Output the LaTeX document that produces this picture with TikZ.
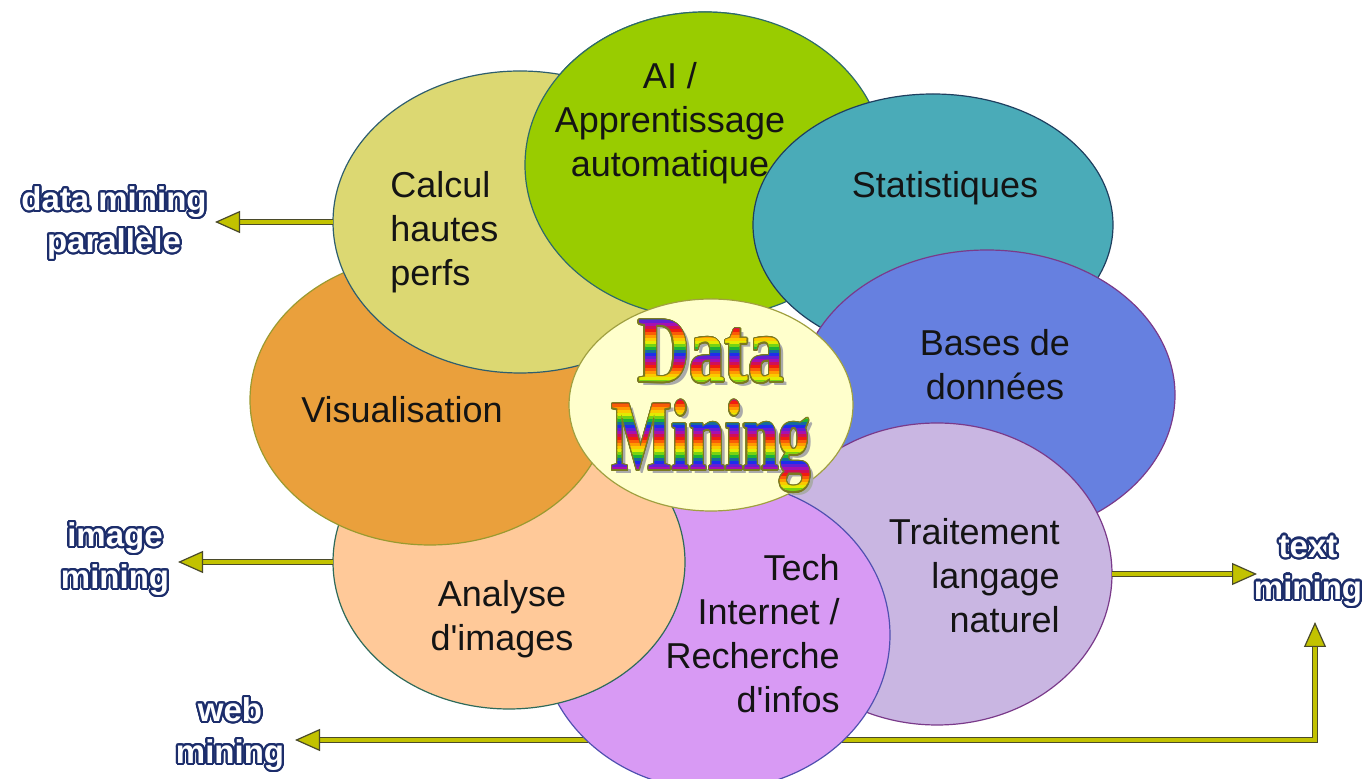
\documentclass[tikz,border=0pt]{standalone}
\usepackage{fontspec}
\setmainfont{Liberation Sans}
\newfontfamily\dmserif{Liberation Serif}
\usepackage[copies]{contour}
\usetikzlibrary{shapes.geometric,arrows.meta,backgrounds,calc}

\contourlength{1.1pt}
\contournumber{24}

\definecolor{calcfill}{HTML}{DCD872}
\definecolor{calcedge}{HTML}{2E5E6E}
\definecolor{aifill}{HTML}{99CC00}
\definecolor{aiedge}{HTML}{2E6A6A}
\definecolor{statfill}{HTML}{4AABB8}
\definecolor{statedge}{HTML}{1F3F5F}
\definecolor{basesfill}{HTML}{6680E0}
\definecolor{basesedge}{HTML}{7A3A8A}
\definecolor{traitfill}{HTML}{C9B6E2}
\definecolor{traitedge}{HTML}{7A3A8A}
\definecolor{techfill}{HTML}{D89AF4}
\definecolor{techedge}{HTML}{5050B0}
\definecolor{anafill}{HTML}{FFC999}
\definecolor{anaedge}{HTML}{2E6A5A}
\definecolor{visfill}{HTML}{EAA03C}
\definecolor{visedge}{HTML}{9A9A30}
\definecolor{corefill}{HTML}{FFFFCC}
\definecolor{coreedge}{HTML}{A0A040}
\definecolor{textdark}{HTML}{141414}
\definecolor{labelblue}{HTML}{1C2D6B}
\definecolor{arrowfill}{HTML}{C2C200}
\definecolor{arrowedge}{HTML}{4A4A2A}
\definecolor{dmedge}{HTML}{7A7A20}
\definecolor{dmshadow}{HTML}{AAAAAA}
% rainbow for the title
\definecolor{dmc0}{HTML}{F01010}
\definecolor{dmc1}{HTML}{FF9000}
\definecolor{dmc2}{HTML}{F8F000}
\definecolor{dmc3}{HTML}{20C020}
\definecolor{dmc4}{HTML}{1030F0}
\definecolor{dmc5}{HTML}{A010C0}

\newcommand{\outl}[1]{\contour{labelblue}{#1}}
\newcommand{\sq}{\textquotesingle}
\newcommand{\dmdata}{{\fontsize{47}{47}\selectfont\scalebox{0.755}[1]{Data}}}
\newcommand{\dmmining}{{\fontsize{50}{50}\selectfont\scalebox{0.64}[1]{Mining}}}

\begin{document}
\begin{tikzpicture}[x=0.5pt,y=-0.5pt,
    petal/.style={ellipse,inner sep=0pt,outer sep=0pt,line width=0.6pt},
    petaltext/.style={font=\fontsize{18}{22}\selectfont,text=textdark,inner sep=0pt},
    minelabel/.style={font=\bfseries\fontsize{16.5}{21}\selectfont,text=white,align=center,inner sep=0pt},
    dmword/.style={font=\dmserif\bfseries,anchor=base,inner sep=0pt},
    minearrow/.style={draw=arrowfill,line width=2pt,
        preaction={draw=arrowedge,line width=3pt,arrows=-,shorten >=6pt},
        -{Triangle[length=12.5pt,width=11pt,fill=arrowfill,color=arrowedge,line width=0.6pt]}}]

\useasboundingbox (0,0) rectangle (1366,779);

% petals, lowest first
\node[petal,fill=aifill,draw=aiedge,minimum width=180pt,minimum height=153pt] (ai) at (705,165) {};
\node[petal,fill=statfill,draw=statedge,minimum width=180pt,minimum height=131pt] (stat) at (933,225) {};
\node[petal,fill=basesfill,draw=basesedge,minimum width=188pt,minimum height=145pt] (bases) at (987,395) {};
\node[petal,fill=traitfill,draw=traitedge,minimum width=175pt,minimum height=151pt] (trait) at (937,574) {};
\node[petal,fill=techfill,draw=techedge,minimum width=175pt,minimum height=155pt] (tech) at (715,635) {};
\node[petal,fill=anafill,draw=anaedge,minimum width=176pt,minimum height=147pt] (ana) at (509,562) {};
\node[petal,fill=visfill,draw=visedge,minimum width=180pt,minimum height=145pt] (vis) at (430,400) {};
\node[petal,fill=calcfill,draw=calcedge,minimum width=187pt,minimum height=151pt] (calc) at (520,222) {};
% AI once more, over Calcul
\begin{scope}
  \clip (0,0) rectangle (740,400);
  \node[petal,fill=aifill,draw=aiedge,minimum width=180pt,minimum height=153pt] (aitop) at (705,165) {};
\end{scope}
\node[petal,fill=corefill,draw=coreedge,minimum width=142pt,minimum height=106pt] (core) at (711,405) {};

% petal texts
\node[petaltext,align=left,anchor=west] (calctxt) at (390,232) {Calcul\\hautes\\perfs};
\node[petaltext,align=center] (aitxt) at (670,123) {AI /\\Apprentissage\\automatique};
\node[petaltext] (stattxt) at (945,188) {Statistiques};
\node[petaltext,align=center] (basestxt) at (995,365) {Bases de\\donn\'ees};
\node[petaltext] (vistxt) at (402,410) {Visualisation};
\node[petaltext,align=right,anchor=east] (traittxt) at (1060,576) {Traitement\\langage\\naturel};
\node[petaltext,align=right,anchor=east] (techtxt) at (840,634) {Tech\\Internet /\\Recherche\\d\sq infos};
\node[petaltext,align=center] (anatxt) at (502,619) {Analyse\\d\sq images};

% Data Mining title
\node[dmword,text=dmshadow] (dmshd) at ($(core)+(2pt,9.5pt)$) {\dmdata};
\node[dmword,text=dmshadow] (dmshm) at ($(core)+(2pt,-34.5pt)$) {\dmmining};
\node[dmword,text=dmedge] (dmold) at ($(core)+(0pt,11.5pt)$) {\contourlength{0.6pt}\contour{dmedge}{\dmdata}};
\node[dmword,text=dmedge] (dmolm) at ($(core)+(0pt,-32.5pt)$) {\contourlength{0.6pt}\contour{dmedge}{\dmmining}};
\foreach \i in {0,...,59}{
  \pgfmathsetmacro\dmpos{mod(3.6+\i/2,6)}
  \pgfmathtruncatemacro\dmk{floor(\dmpos)}
  \pgfmathtruncatemacro\dmn{mod(\dmk+1,6)}
  \pgfmathtruncatemacro\dmmix{round(100*(\dmpos-\dmk))}
  \colorlet{dmband}{dmc\dmn!\dmmix!dmc\dmk}
  \begin{scope}
    \clip ($(core)+(-90pt,{45pt-1.5pt*\i})$) rectangle ($(core)+(90pt,{43.4pt-1.5pt*\i})$);
    \node[dmword,text=dmband] (dmd\i) at ($(core)+(0pt,11.5pt)$) {\dmdata};
    \node[dmword,text=dmband] (dmm\i) at ($(core)+(0pt,-32.5pt)$) {\dmmining};
  \end{scope}
}

% outer labels
\node[minelabel] (parlab) at (114,224) {\outl{data mining}\\\outl{parall\`ele}};
\node[minelabel] (imglab) at (115,560) {\outl{image}\\\outl{mining}};
\node[minelabel] (txtlab) at (1308,572) {\outl{text}\\\outl{mining}};
\node[minelabel] (weblab) at (230,735) {\outl{web}\\\outl{mining}};

% arrows
\coordinate (parend) at (215,222);
\coordinate (imgend) at (178,562);
\coordinate (txtend) at (1257,574);
\coordinate (webend) at (295,740);
\coordinate (bendpt) at (1315,740);
\coordinate (upend) at (1315,622);
\draw[minearrow] (calc) -- (parend);
\draw[minearrow] (ana) -- (imgend);
\draw[minearrow] (trait) -- (txtend);
\begin{pgfonlayer}{background}
  \draw[minearrow] (tech.center |- webend) -- (webend);
  \draw[minearrow] (tech.center |- bendpt) -- (bendpt) -- (upend);
\end{pgfonlayer}
\end{tikzpicture}
\end{document}
